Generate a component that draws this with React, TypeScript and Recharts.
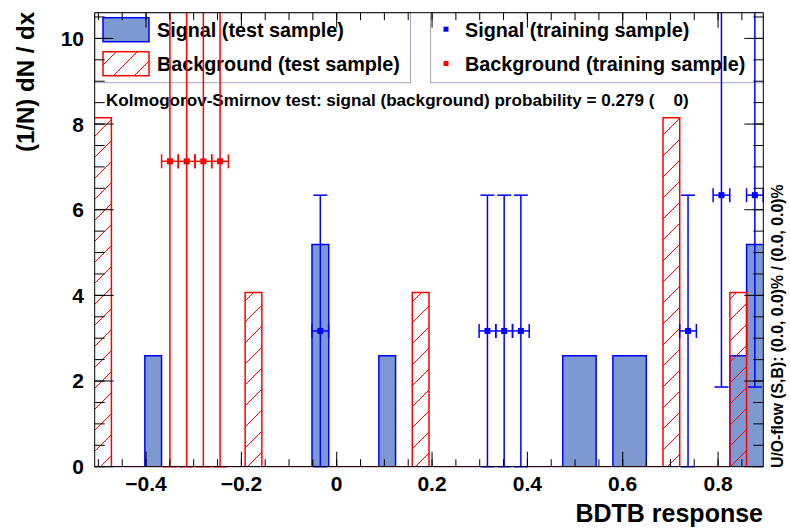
import React from 'react';
import { ComposedChart, Area, Scatter, XAxis, YAxis, ErrorBar, Customized } from 'recharts';

const X_MIN = -0.5077;
const X_MAX = 0.8949;
const N_BINS = 40;
const Y_MAX = 10.6;

const signalTest = [
  0, 0, 0, 2.59, 0, 0, 0, 0, 0, 0,
  0, 0, 0, 5.19, 0, 0, 0, 2.59, 0, 0,
  0, 0, 0, 0, 0, 0, 0, 0, 2.59, 2.59,
  0, 2.59, 2.59, 0, 0, 0, 0, 0, 2.59, 5.19,
];
const backgroundTest = [
  8.15, 0, 0, 0, 0, 0, 0, 0, 0, 4.07,
  0, 0, 0, 0, 0, 0, 0, 0, 0, 4.07,
  0, 0, 0, 0, 0, 0, 0, 0, 0, 0,
  0, 0, 0, 0, 8.15, 0, 0, 0, 4.07, 0,
];

const signalTrainX = [-0.0344, 0.3162, 0.3513, 0.3863, 0.737, 0.8071, 0.8772];
const signalTrainY = [3.17, 3.17, 3.17, 3.17, 3.17, 6.34, 6.34];
const signalTrainErr = [3.17, 3.17, 3.17, 3.17, 3.17, 4.48, 4.48];
const backgroundTrainX = [-0.3499, -0.3148, -0.2798, -0.2447];
const backgroundTrainY = [7.13, 7.13, 7.13, 7.13];
const backgroundTrainErr = [7.13, 7.13, 7.13, 7.13];
const HALF_BIN = 0.0175;

const xMajorTicks = [-0.4, -0.2, 0, 0.2, 0.4, 0.6, 0.8];
const xMinorTicks = [-0.5, -0.45, -0.4, -0.35, -0.3, -0.25, -0.2, -0.15, -0.1, -0.05, 0, 0.05, 0.1, 0.15, 0.2, 0.25, 0.3, 0.35, 0.4, 0.45, 0.5, 0.55, 0.6, 0.65, 0.7, 0.75, 0.8, 0.85];
const yMajorTicks = [0, 2, 4, 6, 8, 10];
const yMinorTicks = [0, 0.5, 1, 1.5, 2, 2.5, 3, 3.5, 4, 4.5, 5, 5.5, 6, 6.5, 7, 7.5, 8, 8.5, 9, 9.5, 10, 10.5];

const legendLabels = ['Signal (test sample)', 'Background (test sample)', 'Signal (training sample)', 'Background (training sample)'];
const ksText = 'Kolmogorov-Smirnov test: signal (background) probability = 0.279 (    0)';
const xTitle = 'BDTB response';
const yTitle = '(1/N) dN / dx';
const flowText = 'U/O-flow (S,B): (0.0, 0.0)% / (0.0, 0.0)%';

const BLUE = '#0000ff';
const RED = '#ff0000';
const FILL_BLUE = '#7d99d1';
const FONT = "'Liberation Sans', Arial, Helvetica, sans-serif";
const AX = 0.01;

const binWidth = (X_MAX - X_MIN) / N_BINS;
const histData = Array.from({ length: N_BINS + 1 }, (_, i) => ({
  x: X_MIN + i * binWidth,
  sig: signalTest[Math.min(i, N_BINS - 1)],
  bkg: backgroundTest[Math.min(i, N_BINS - 1)],
}));

const sigTrainData = signalTrainX.map((x, i) => ({ x, y: signalTrainY[i], ey: signalTrainErr[i], ex: HALF_BIN }));
const bkgTrainData = backgroundTrainX.map((x, i) => ({ x, y: backgroundTrainY[i], ey: backgroundTrainErr[i], ex: HALF_BIN }));

const fmt = (v: number) => (v < 0 ? '\u2212' + Math.abs(v) : String(v));
const blank = () => '';

const squareShape = (color: string) => (props: any) => (
  <rect x={props.cx - 3} y={props.cy - 3} width={6} height={6} fill={color} />
);
const noShape = () => <g />;

const Defs = () => (
  <defs>
    <pattern id="hatch" patternUnits="userSpaceOnUse" width={21} height={21}>
      <path d="M0,21 L21,0 M-5,5 L5,-5 M16,26 L26,16" stroke={RED} strokeWidth={1} />
    </pattern>
  </defs>
);

const Overlay = () => (
  <g fontFamily={FONT} fontWeight="bold" fill="#000">
    <rect x={94.7} y={12.7} width={315.8} height={70} fill="none" stroke="#a0a6b8" strokeWidth={1} />
    <rect x={430.6} y={12.7} width={332.7} height={70} fill="none" stroke="#a0a6b8" strokeWidth={1} />
    <rect x={103} y={17.7} width={46} height={24} fill={FILL_BLUE} stroke={BLUE} strokeWidth={1.5} />
    <rect x={103} y={51.7} width={46} height={24} fill="url(#hatch)" stroke={RED} strokeWidth={1.5} />
    <text x={157} y={36.8} fontSize={19.8}>{legendLabels[0]}</text>
    <text x={157} y={71} fontSize={19.8}>{legendLabels[1]}</text>
    <rect x={443.5} y={26.7} width={5} height={5} fill={BLUE} />
    <rect x={443.5} y={61} width={5} height={5} fill={RED} />
    <text x={465} y={36.8} fontSize={19.8}>{legendLabels[2]}</text>
    <text x={465} y={71} fontSize={19.8}>{legendLabels[3]}</text>
    <text x={106} y={106} fontSize={17.1} style={{ whiteSpace: 'pre' }}>{ksText}</text>
    <text x={763} y={522} fontSize={25} textAnchor="end">{xTitle}</text>
    <text transform="translate(34,12) rotate(-90)" fontSize={24} textAnchor="end">{yTitle}</text>
    <text transform="translate(783,468) rotate(-90)" fontSize={15.8} textAnchor="start">{flowText}</text>
  </g>
);

const tickStyle = { fontSize: 21, fontWeight: 'bold', fill: '#000', fontFamily: FONT };
const hiddenTick = { fontSize: 1, fill: 'none' };
const line = { stroke: '#000', strokeWidth: 1 };

export default function App() {
  return (
    <div style={{ position: 'absolute', left: 0, top: 0, width: 790, height: 530, background: '#fff' }}>
      <ComposedChart
        width={790}
        height={530}
        data={histData}
        margin={{ top: 12.68, right: 26.68, bottom: 63.28, left: 94.68 }}
      >
        <Customized component={Defs} />
        <Area
          xAxisId="x" yAxisId="y" type="stepAfter" dataKey="sig"
          stroke={BLUE} strokeWidth={1.5} fill={FILL_BLUE} fillOpacity={1}
          dot={false} activeDot={false} isAnimationActive={false}
        />
        <Area
          xAxisId="x" yAxisId="y" type="stepAfter" dataKey="bkg"
          stroke={RED} strokeWidth={1.5} fill="url(#hatch)" fillOpacity={1}
          dot={false} activeDot={false} isAnimationActive={false}
        />
        <Scatter xAxisId="xm" yAxisId="ym" data={histData} shape={noShape} isAnimationActive={false} />
        <Scatter xAxisId="xt" yAxisId="yr" data={histData} shape={noShape} isAnimationActive={false} />
        <Scatter xAxisId="xtm" yAxisId="yrm" data={histData} shape={noShape} isAnimationActive={false} />
        <XAxis
          xAxisId="x" dataKey="x" type="number" domain={[X_MIN, X_MAX]} allowDataOverflow
          ticks={xMajorTicks} interval={0} height={AX} tickSize={-15} tickMargin={24.5}
          tickFormatter={fmt} tick={tickStyle} axisLine={line} tickLine={line}
        />
        <XAxis
          xAxisId="xm" dataKey="x" type="number" domain={[X_MIN, X_MAX]} allowDataOverflow
          ticks={xMinorTicks} interval={0} height={AX} tickSize={-7.5}
          tickFormatter={blank} tick={hiddenTick} axisLine={false} tickLine={line}
        />
        <XAxis
          xAxisId="xt" dataKey="x" orientation="top" type="number" domain={[X_MIN, X_MAX]} allowDataOverflow
          ticks={xMajorTicks} interval={0} height={AX} tickSize={-15}
          tickFormatter={blank} tick={hiddenTick} axisLine={line} tickLine={line}
        />
        <XAxis
          xAxisId="xtm" dataKey="x" orientation="top" type="number" domain={[X_MIN, X_MAX]} allowDataOverflow
          ticks={xMinorTicks} interval={0} height={AX} tickSize={-7.5}
          tickFormatter={blank} tick={hiddenTick} axisLine={false} tickLine={line}
        />
        <YAxis
          yAxisId="y" type="number" domain={[0, Y_MAX]} allowDataOverflow
          ticks={yMajorTicks} interval={0} width={AX} tickSize={-19} tickMargin={29.7}
          tick={tickStyle} axisLine={line} tickLine={line}
        />
        <YAxis
          yAxisId="ym" dataKey="sig" type="number" domain={[0, Y_MAX]} allowDataOverflow
          ticks={yMinorTicks} interval={0} width={AX} tickSize={-10}
          tickFormatter={blank} tick={hiddenTick} axisLine={false} tickLine={line}
        />
        <YAxis
          yAxisId="yr" dataKey="sig" orientation="right" type="number" domain={[0, Y_MAX]} allowDataOverflow
          ticks={yMajorTicks} interval={0} width={AX} tickSize={-19}
          tickFormatter={blank} tick={hiddenTick} axisLine={line} tickLine={line}
        />
        <YAxis
          yAxisId="yrm" dataKey="sig" orientation="right" type="number" domain={[0, Y_MAX]} allowDataOverflow
          ticks={yMinorTicks} interval={0} width={AX} tickSize={-10}
          tickFormatter={blank} tick={hiddenTick} axisLine={false} tickLine={line}
        />
        <Customized component={Overlay} />
        <Scatter
          xAxisId="x" yAxisId="y" data={bkgTrainData} dataKey="y"
          shape={squareShape(RED)} isAnimationActive={false}
        >
          <ErrorBar dataKey="ey" direction="y" width={7} stroke={RED} strokeWidth={1.5} />
          <ErrorBar dataKey="ex" direction="x" width={7} stroke={RED} strokeWidth={1.5} />
        </Scatter>
        <Scatter
          xAxisId="x" yAxisId="y" data={sigTrainData} dataKey="y"
          shape={squareShape(BLUE)} isAnimationActive={false}
        >
          <ErrorBar dataKey="ey" direction="y" width={7} stroke={BLUE} strokeWidth={1.5} />
          <ErrorBar dataKey="ex" direction="x" width={7} stroke={BLUE} strokeWidth={1.5} />
        </Scatter>
      </ComposedChart>
      <div style={{ position: 'absolute', left: 0, top: 0, width: 790, height: 12.1, background: '#fff' }} />
    </div>
  );
}
